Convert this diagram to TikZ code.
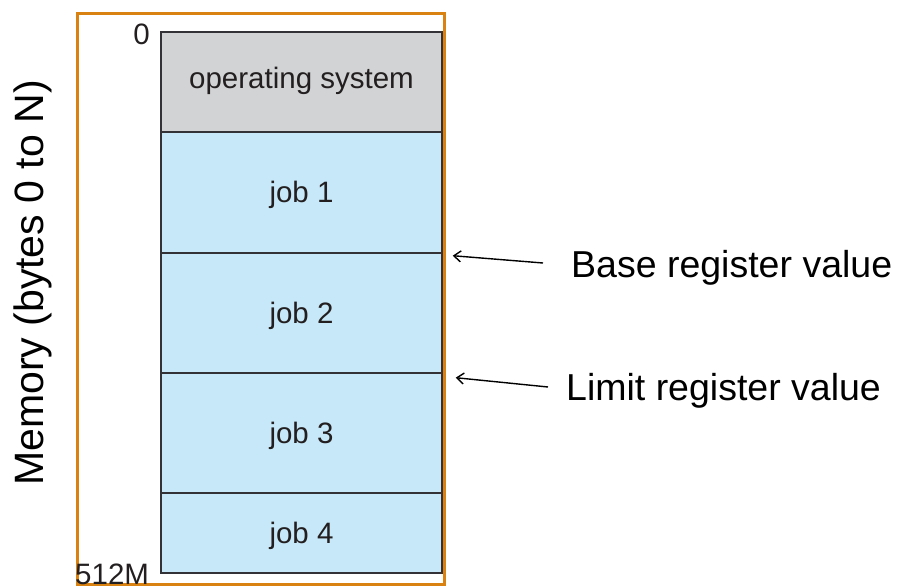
\documentclass[tikz,border=0pt]{standalone}
\usepackage{fontspec}
\setmainfont{Liberation Sans}
\usetikzlibrary{arrows.meta}
\definecolor{frameorange}{RGB}{217,130,18}
\definecolor{osgray}{RGB}{209,211,212}
\definecolor{jobblue}{RGB}{199,232,248}
\definecolor{edgegray}{RGB}{50,50,55}
\definecolor{txtgray}{RGB}{35,31,32}
\tikzset{
  block/.style={draw=edgegray, line width=1.4pt, minimum width=281pt, inner sep=0pt,
    font=\fontsize{29.5}{30}\selectfont, text=txtgray},
  osblock/.style={block, fill=osgray},
  jobblock/.style={block, fill=jobblue},
  reglabel/.style={inner sep=0pt, anchor=west, font=\fontsize{37.5}{38}\selectfont},
  addrlabel/.style={inner sep=0pt, font=\fontsize{29.5}{30}\selectfont, text=txtgray},
  arr/.style={-{Straight Barb[length=7pt,width=11pt]}, line width=1.4pt}
}
\begin{document}
\begin{tikzpicture}[x=1pt,y=-1pt]
\useasboundingbox (0,0) rectangle (903,586);
\node[osblock, minimum height=100pt] (os) at (301.5,82) {};
\node[jobblock, minimum height=121pt] (j1) at (301.5,192.5) {};
\node[jobblock, minimum height=120pt] (j2) at (301.5,313) {};
\node[jobblock, minimum height=120pt] (j3) at (301.5,433) {};
\node[jobblock, minimum height=80pt] (j4) at (301.5,533) {};
\node[addrlabel] (ost) at (301.5,81) {operating system};
\node[addrlabel] (j1t) at (301.5,195) {job 1};
\node[addrlabel] (j2t) at (301.5,316) {job 2};
\node[addrlabel] (j3t) at (301.5,436) {job 3};
\node[addrlabel] (j4t) at (301.5,536) {job 4};
\draw[frameorange, line width=3pt] (77,13.5) rectangle (444.7,584.5);
\node[addrlabel, anchor=east] (zero) at (150,34) {0};
\node[addrlabel, anchor=west] (end) at (75,574) {512M};
\node[inner sep=0pt, rotate=90, font=\fontsize{41}{42}\selectfont] (mem) at (33,283) {Memory (bytes 0 to N)};
\node[reglabel] (base) at (571,268) {Base register value};
\node[reglabel] (limit) at (566,391) {Limit register value};
\coordinate (bh) at ([xshift=10pt,yshift=-2pt]j1.south east);
\coordinate (lh) at ([xshift=13pt,yshift=-4pt]j2.south east);
\draw[arr] ([xshift=-28pt,yshift=5pt]base.west) -- (bh);
\draw[arr] ([xshift=-18pt,yshift=4pt]limit.west) -- (lh);
\end{tikzpicture}
\end{document}
